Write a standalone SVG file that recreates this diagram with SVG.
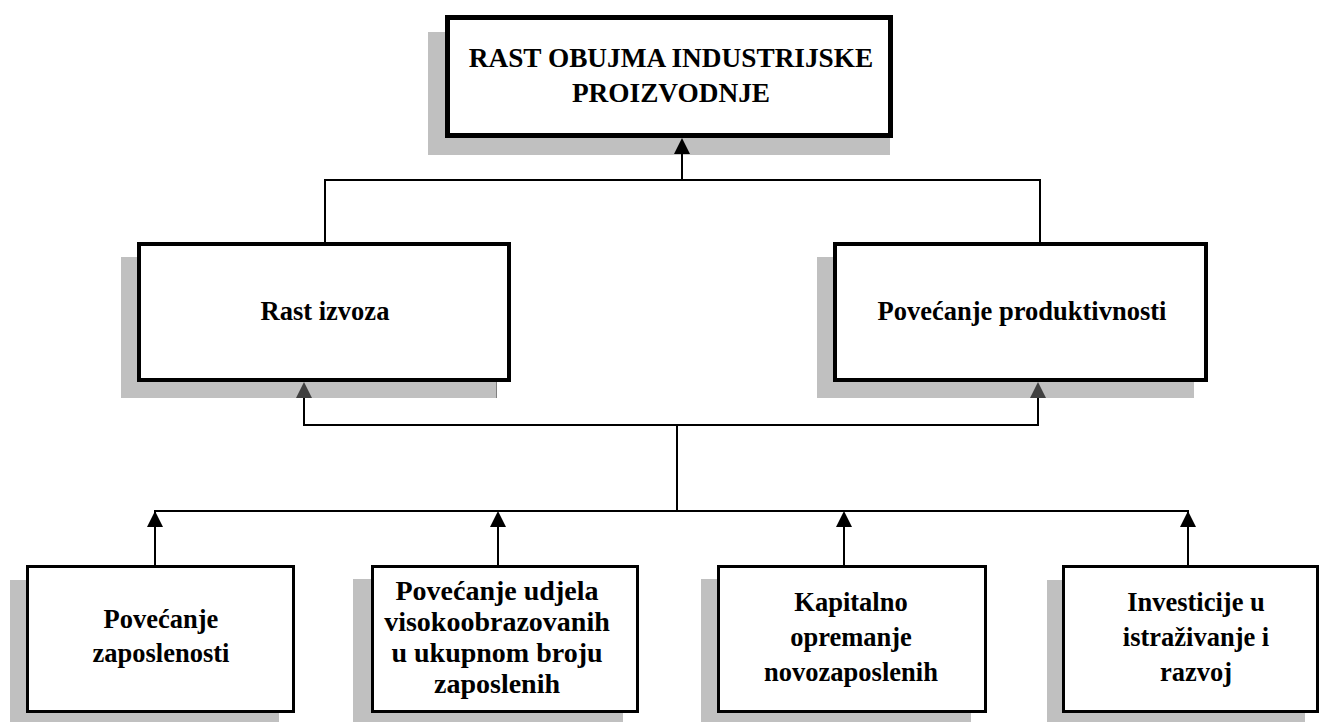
<svg xmlns="http://www.w3.org/2000/svg" width="1321" height="722" viewBox="0 0 1321 722">
<style>
.sh{fill:#c0c0c0}
.bx{fill:#fff;stroke:#000}
.t{font-family:"Liberation Serif","Times New Roman",serif;font-weight:bold;font-size:26.5px;fill:#000;text-anchor:middle}
.t2{font-size:28px}
.tt{font-size:27.3px}
.ln{fill:none;stroke:#000;stroke-width:2}
</style>
<defs>
<marker id="ab" viewBox="0 0 16 16" markerWidth="16" markerHeight="16" refX="14" refY="8" orient="auto" markerUnits="userSpaceOnUse"><path d="M0,0 L16,8 L0,16 z" fill="#000"/></marker>
<marker id="ag" viewBox="0 0 16 16" markerWidth="16" markerHeight="16" refX="14" refY="8" orient="auto" markerUnits="userSpaceOnUse"><path d="M0,0 L16,8 L0,16 z" fill="#404040"/></marker>
</defs>
<rect width="1321" height="722" fill="#fff"/>
<g id="top">
<rect class="sh" x="428" y="32" width="462" height="123"/>
<rect class="bx" x="447.5" y="17.5" width="443" height="118" stroke-width="5"/>
<text class="t tt" x="671" y="67">RAST OBUJMA INDUSTRIJSKE</text>
<text class="t tt" x="671" y="102">PROIZVODNJE</text>
</g>
<g id="izvoz">
<rect class="sh" x="121" y="257" width="376" height="141"/>
<line x1="496.5" y1="382" x2="496.5" y2="398" stroke="#808080" stroke-width="1"/>
<rect class="bx" x="139" y="244" width="370" height="136" stroke-width="4"/>
<text class="t" x="325" y="320">Rast izvoza</text>
</g>
<g id="produktivnost">
<rect class="sh" x="817" y="257" width="377" height="141"/>
<rect class="bx" x="835" y="244" width="371" height="136" stroke-width="4"/>
<text class="t" x="1022" y="320">Povećanje produktivnosti</text>
</g>
<g id="zaposlenost">
<rect class="sh" x="10" y="580" width="269" height="142"/>
<rect class="bx" x="27.5" y="566.5" width="266" height="145" stroke-width="3"/>
<text class="t" x="161" y="628">Povećanje</text>
<text class="t" x="161" y="662">zaposlenosti</text>
</g>
<g id="udjel">
<rect class="sh" x="353" y="579" width="270" height="143"/>
<rect class="bx" x="372.5" y="566.5" width="265" height="145" stroke-width="3"/>
<text class="t t2" x="497" y="600">Povećanje udjela</text>
<text class="t t2" x="497" y="631">visokoobrazovanih</text>
<text class="t t2" x="497" y="662">u ukupnom broju</text>
<text class="t t2" x="497" y="693">zaposlenih</text>
</g>
<g id="kapital">
<rect class="sh" x="701" y="579" width="270" height="143"/>
<rect class="bx" x="718.5" y="566.5" width="267" height="145" stroke-width="3"/>
<text class="t" x="851" y="611">Kapitalno</text>
<text class="t" x="851" y="646">opremanje</text>
<text class="t" x="851" y="681">novozaposlenih</text>
</g>
<g id="investicije">
<rect class="sh" x="1047" y="580" width="258" height="142"/>
<rect class="bx" x="1063.5" y="566.5" width="254" height="145" stroke-width="3"/>
<text class="t" x="1196" y="611">Investicije u</text>
<text class="t" x="1196" y="646">istraživanje i</text>
<text class="t" x="1196" y="681">razvoj</text>
</g>
<g id="connectors">
<path class="ln" d="M325,242 V180 H1040 V242"/>
<path class="ln" d="M682,180 V140" marker-end="url(#ab)"/>
<path class="ln" d="M304,384 V425 H1038 V384" stroke="#222"/>
<path class="ln" d="M304,400 V384" marker-end="url(#ag)"/>
<path class="ln" d="M1038,400 V384" marker-end="url(#ag)"/>
<path class="ln" d="M677,425 V511"/>
<path class="ln" d="M155,565 V511 H1188 V565"/>
<path class="ln" d="M155,530 V513" marker-end="url(#ab)"/>
<path class="ln" d="M498,565 V513" marker-end="url(#ab)"/>
<path class="ln" d="M844,565 V513" marker-end="url(#ab)"/>
<path class="ln" d="M1188,530 V513" marker-end="url(#ab)"/>
</g>
</svg>
